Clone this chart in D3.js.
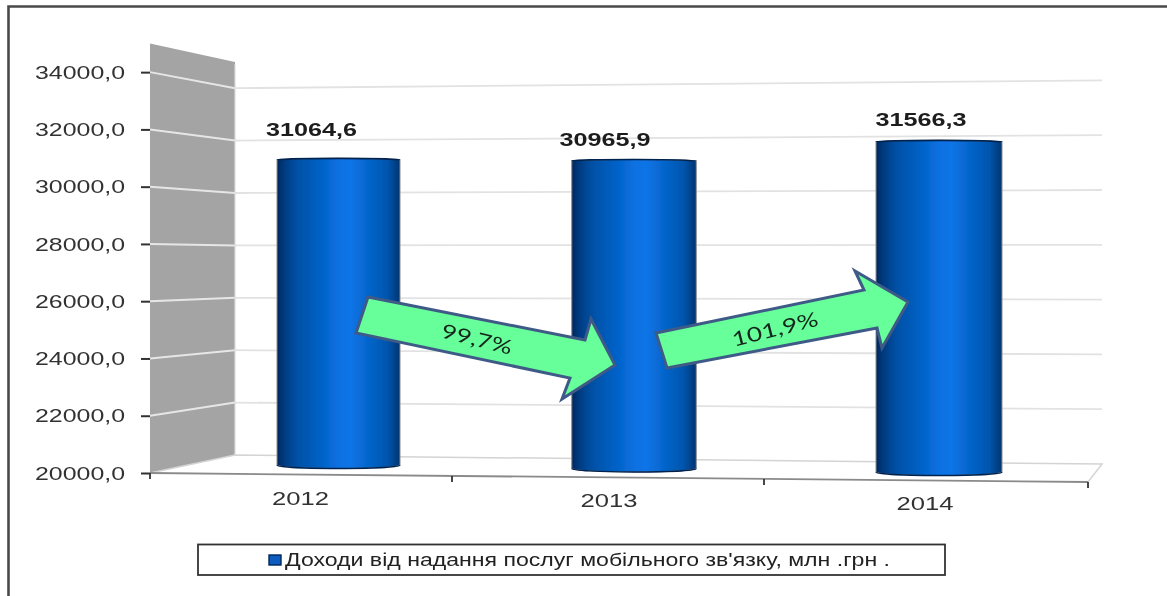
<!DOCTYPE html>
<html><head><meta charset="utf-8">
<script src="https://cdn.jsdelivr.net/npm/d3@7"></script>
<style>html,body{margin:0;background:#fff}svg{display:block}text{font-family:"Liberation Sans",Arial,sans-serif}</style>
</head><body><svg id="c" width="1167" height="596"></svg>
<script>
const categories = ["2012","2013","2014"];
const revenue = [31064.6, 30965.9, 31566.3];
const yTicks = [20000,22000,24000,26000,28000,30000,32000,34000];
const arrowLabels = ["99,7%","101,9%"];
const legendLabel = "Доходи від надання послуг мобільного зв'язку, млн .грн .";

const svg = d3.select("#c");
const defs = svg.append("defs");
defs.append("filter").attr("id","soft").attr("x","-2%").attr("y","-2%").attr("width","104%").attr("height","104%")
  .append("feGaussianBlur").attr("stdDeviation",0.75);
const gradStops = [[0,"#01285e"],[.06,"#013b80"],[.16,"#0050a4"],[.34,"#0060c4"],[.52,"#0e72e4"],[.6,"#0f74e6"],[.8,"#005fc0"],[.9,"#0055ac"],[1,"#013470"]];
const lg = defs.append("linearGradient").attr("id","cyl");
gradStops.forEach(([o,c])=>lg.append("stop").attr("offset",o).attr("stop-color",c));
const root = svg.append("g").attr("filter","url(#soft)");

// frame
root.append("path").attr("d","M8.5,600V6.5H1170").attr("fill","none").attr("stroke","#4a4a4a").attr("stroke-width",2.6);

// Depth planes of the 3D box, each with its own value scale
const domain = [20000,35000];
const yFront = d3.scaleLinear().domain(domain).range([473,43.5]);
const yBackL = d3.scaleLinear().domain(domain).range([455,62]);
const yBackR = d3.scaleLinear().domain(domain).range([464,53]);
const wallX = [150,235], backRightX = 1102, frontRightX = 1088, frontRightY = 482;

// wall
root.append("path")
  .attr("d",`M${wallX[0]},${yFront(35000)}L${wallX[1]},${yBackL(35000)}L${wallX[1]},${yBackL(20000)}L${wallX[0]},${yFront(20000)}Z`)
  .attr("fill","#a4a4a4");

// grid
yTicks.filter(d=>d>20000).forEach(d=>{
  root.append("line").attr("x1",wallX[0]).attr("y1",yFront(d)).attr("x2",wallX[1]).attr("y2",yBackL(d))
    .attr("stroke","#e6e6e6").attr("stroke-width",2);
  root.append("line").attr("x1",wallX[1]).attr("y1",yBackL(d)).attr("x2",backRightX).attr("y2",yBackR(d))
    .attr("stroke","#e2e2e2").attr("stroke-width",1.8);
});
// floor
root.append("path")
  .attr("d",`M${wallX[0]},${yFront(20000)}L${wallX[1]},${yBackL(20000)}L${backRightX},${yBackR(20000)}L${frontRightX},${frontRightY}`)
  .attr("fill","none").attr("stroke","#d4d4d4").attr("stroke-width",1.5);
root.append("line").attr("x1",wallX[1]).attr("y1",yBackL(34900)).attr("x2",wallX[1]).attr("y2",yBackL(20000))
  .attr("stroke","#dcdcdc").attr("stroke-width",1.2);
root.append("line").attr("x1",wallX[0]).attr("y1",yFront(20000)).attr("x2",frontRightX).attr("y2",frontRightY)
  .attr("stroke","#8a8a8a").attr("stroke-width",1.8);
// x ticks
const floorY = d3.scaleLinear().domain([wallX[0],frontRightX]).range([yFront(20000),frontRightY]);
[150,452,764,1088].forEach(x=>{
  root.append("line").attr("x1",x).attr("x2",x).attr("y1",floorY(x)).attr("y2",floorY(x)+6)
    .attr("stroke","#333").attr("stroke-width",1.8);
});

// y axis
const axisG = root.append("g").attr("transform",`translate(${wallX[0]},0)`)
  .call(d3.axisLeft(yFront).tickValues(yTicks).tickSize(9).tickPadding(16)
    .tickFormat(d=>d.toFixed(1).replace(".",",")));
axisG.select(".domain").remove();
axisG.selectAll(".tick line").attr("stroke","#333").attr("stroke-width",2);
axisG.selectAll(".tick text").attr("fill","#333").attr("font-size",19).attr("font-family",'"Liberation Sans",Arial,sans-serif')
  .attr("textLength",90).attr("lengthAdjust","spacingAndGlyphs");

// bars
const xBar = d3.scaleLinear().domain([0,1,2]).range([338.5,634,939]);
const wBar = d3.scaleLinear().domain([0,2]).range([123,126]);
const baseAt = d3.scaleLinear().domain([338.5,939]).range([468,475]);
const pxPerUnit = d3.scaleLinear().domain([338.5,939]).range([.02793,.02888]);
const yBar = (v,cx)=>baseAt(cx)-(v-domain[0])*pxPerUnit(cx);

const bars = root.selectAll(".bar").data(revenue).join("g").attr("class","bar");
bars.append("path")
  .attr("d",(v,i)=>{
    const cx=xBar(i), w=wBar(i), l=cx-w/2, r=cx+w/2, t=yBar(v,cx), b=baseAt(cx);
    return `M${l},${t+1}A${w/2},1.6 0 0 1 ${r},${t+1}L${r},${b-3}A${w/2},3.5 0 0 1 ${l},${b-3}Z`;
  })
  .attr("fill","url(#cyl)").attr("stroke","#8c8c8c").attr("stroke-width",1);
bars.append("path")
  .attr("d",(v,i)=>{
    const cx=xBar(i), w=wBar(i), t=yBar(v,cx);
    return `M${cx-w/2},${t+1}A${w/2},1.6 0 0 1 ${cx+w/2},${t+1}`;
  }).attr("fill","none").attr("stroke","#01234f").attr("stroke-width",1.6);
bars.append("path")
  .attr("d",(v,i)=>{
    const cx=xBar(i), w=wBar(i), b=baseAt(cx);
    return `M${cx+w/2},${b-3}A${w/2},3.5 0 0 1 ${cx-w/2},${b-3}`;
  }).attr("fill","none").attr("stroke","#01234f").attr("stroke-width",1.4);

// value labels
const labelDX = [-27,-29,-18], labelDY = [-29,-21,-21];
root.selectAll(".val").data(revenue).join("text").attr("class","val")
  .attr("x",(v,i)=>xBar(i)+labelDX[i])
  .attr("y",(v,i)=>yBar(v,xBar(i))+labelDY[i])
  .attr("dy",".36em").attr("text-anchor","middle")
  .attr("font-size",18).attr("font-weight","bold").attr("fill","#1c1c1c")
  .attr("textLength",91).attr("lengthAdjust","spacingAndGlyphs")
  .text(v=>v.toFixed(1).replace(".",","));

// category labels
const catDX = [-38,-25,-14], catDY = 23;
root.selectAll(".cat").data(categories).join("text").attr("class","cat")
  .attr("x",(c,i)=>xBar(i)+catDX[i])
  .attr("y",(c,i)=>floorY(xBar(i))+catDY)
  .attr("dy",".36em").attr("text-anchor","middle")
  .attr("font-size",19).attr("fill","#333")
  .attr("textLength",57).attr("lengthAdjust","spacingAndGlyphs")
  .text(c=>c);

// annotation arrows between bars (hand-drawn shapes in the source)
const arrowShapes = [
  {pts:[[368,297],[585,340],[591,319],[615,365],[562,399],[570,378],[356,333]],text:[477,339],rot:14,len:72},
  {pts:[[656,333],[864,290],[855,271],[908,302],[882,348],[877,328],[667,368]],text:[775,329],rot:-14,len:88}
];
arrowShapes.forEach((a,i)=>{
  root.append("path").attr("d",d3.line()(a.pts)+"Z")
    .attr("fill","#66ff99").attr("stroke","#3f5a88").attr("stroke-width",3).attr("stroke-linejoin","miter");
  root.append("text").attr("transform",`translate(${a.text[0]},${a.text[1]}) rotate(${a.rot})`)
    .attr("dy",".36em").attr("text-anchor","middle").attr("font-size",20).attr("fill","#14261c")
    .style("font-family","Lato,sans-serif")
    .attr("textLength",a.len).attr("lengthAdjust","spacingAndGlyphs").text(arrowLabels[i]);
});

// legend
const leg = root.append("g");
leg.append("rect").attr("x",198).attr("y",544.5).attr("width",747).attr("height",30.5)
  .attr("fill","#fff").attr("stroke","#333").attr("stroke-width",1.8);
leg.append("rect").attr("x",269).attr("y",555).attr("width",12).attr("height",10)
  .attr("fill","#0a5cc0").attr("stroke","#01275a").attr("stroke-width",1.4);
leg.append("text").attr("x",285).attr("y",560).attr("dy",".36em")
  .attr("font-size",17.5).attr("fill","#222")
  .attr("textLength",605).attr("lengthAdjust","spacingAndGlyphs").text(legendLabel);
</script></body></html>
